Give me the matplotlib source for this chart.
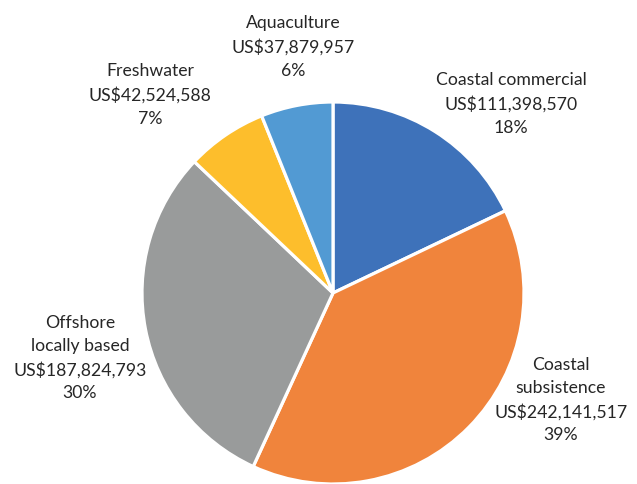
import matplotlib.pyplot as plt

# fishery sectors, clockwise from 12 o'clock
sectors = ['Coastal commercial', 'Coastal\nsubsistence', 'Offshore\nlocally based',
           'Freshwater', 'Aquaculture']
values = [111398570, 242141517, 187824793, 42524588, 37879957]
colours = ['#3e72ba', '#f0843c', '#999b9b', '#fdbe2c', '#529ad3']

# label anchor points (pixels, y measured from the top)
label_xy = [(511, 104), (561, 400), (80, 358), (150, 95), (293, 47)]

W, H = 637, 485
fig = plt.figure(figsize=(W / 100, H / 100), dpi=100)
ax = fig.add_axes([0, 0, 1, 1])

ax.pie(values, colors=colours, startangle=90, counterclock=False,
       center=(333, H - 294), radius=191, frame=True,
       wedgeprops=dict(edgecolor='white', linewidth=2.3))
ax.set_xlim(0, W)
ax.set_ylim(0, H)
ax.set_aspect('equal')
ax.axis('off')

total = sum(values)
for name, v, (x, y) in zip(sectors, values, label_xy):
    txt = f'{name}\nUS${v:,}\n{v / total:.0%}'
    ax.text(x, H - y, txt, ha='center', va='center', fontsize=12.7,
            family='Lato', color='#262626', linespacing=1.55)

fig.savefig('out.png', dpi=100)
